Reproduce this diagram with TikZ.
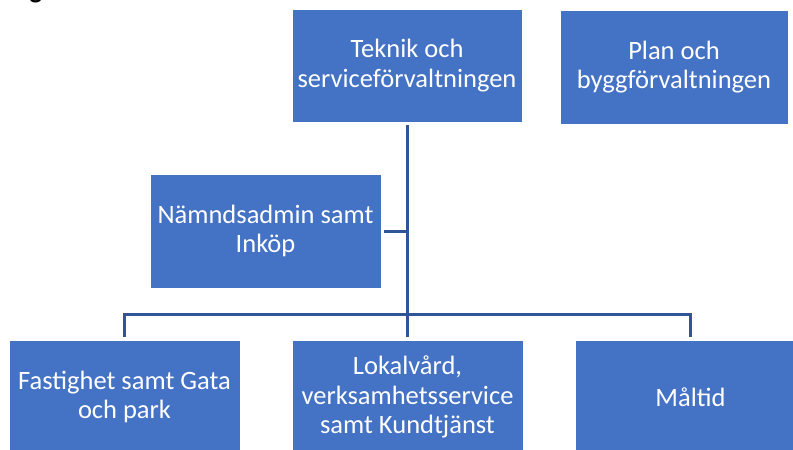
\documentclass[tikz,border=0pt]{standalone}
\usepackage{fontspec}
\setmainfont{Carlito}
\definecolor{boxblue}{HTML}{4472C4}
\definecolor{lineblue}{HTML}{2F5597}
\begin{document}
\begin{tikzpicture}[x=1pt,y=-1pt,
  orgbox/.style={rectangle, fill=boxblue, draw=white, line width=0.6pt,
    minimum width=231pt, minimum height=114pt, inner sep=0pt,
    text=white, align=center, font=\fontsize{26.5}{29.5}\selectfont},
  conn/.style={draw=lineblue, line width=3pt}]
\useasboundingbox (0,0) rectangle (793,450);
\begin{scope}
\clip (0,0) rectangle (793,450);
\node[anchor=base, font=\fontsize{26.5}{30}\selectfont\bfseries, inner sep=0pt] (frag) at (36,-1.5) {g};
\node[orgbox, minimum width=230pt, minimum height=113pt] (tek) at (407,65.5) {Teknik och\\serviceförvaltningen};
\node[orgbox, minimum width=228pt] (plan) at (674,67) {Plan och\\byggförvaltningen};
\node[orgbox] (nam) at (265.5,231) {Nämndsadmin samt\\Inköp};
\node[orgbox] (fas) at (124.5,397) {Fastighet samt Gata\\och park};
\node[orgbox] (lok) at (407.5,397) {Lokalvård,\\verksamhetsservice\\samt Kundtjänst};
\node[orgbox] (mal) at (690.5,397) {Måltid};
\end{scope}
\coordinate (bus) at (407,314);
\draw[conn, shorten <=3pt, shorten >=3pt] (tek.south) -- (tek.south |- lok.north);
\draw[conn, shorten <=3pt] (nam.east) -- (nam.east -| tek.south);
\draw[conn, line cap=rect] (fas.north |- bus) -- (mal.north |- bus);
\draw[conn, shorten >=3pt] (fas.north |- bus) -- (fas.north);
\draw[conn, shorten >=3pt] (mal.north |- bus) -- (mal.north);
\end{tikzpicture}
\end{document}
